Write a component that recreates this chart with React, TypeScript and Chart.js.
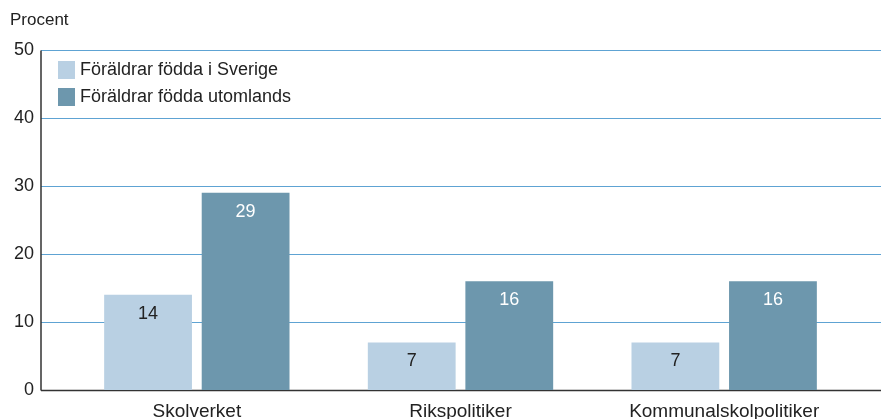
import React, { useEffect, useRef } from "react";
import { Chart, registerables } from "chart.js";

Chart.register(...registerables);

const categories = ["Skolverket", "Rikspolitiker", "Kommunalskolpolitiker"];
const seriesNames = ["Föräldrar födda i Sverige", "Föräldrar födda utomlands"];
const bornSweden = [14, 7, 7];
const bornAbroad = [29, 16, 16];
const yTicks = [0, 10, 20, 30, 40, 50];
const yTitle = "Procent";

const LIGHT = "#b9d0e3";
const DARK = "#6d97ad";
const GRID = "#5ea3d3";
const TEXT = "#222222";
const FONT = "'Liberation Sans', Arial, sans-serif";

export default function App() {
  const ref = useRef<HTMLCanvasElement | null>(null);

  useEffect(() => {
    document.body.style.margin = "0";
    const canvas = ref.current;
    if (!canvas) return;

    const decor = {
      id: "decor",
      beforeDatasetsDraw(chart: any) {
        const ctx = chart.ctx;
        const y = chart.scales.y;
        const axisX = 41;
        const right = chart.width;
        ctx.save();
        ctx.lineWidth = 1;
        ctx.strokeStyle = GRID;
        yTicks.forEach((t) => {
          if (t === 0) return;
          const py = Math.round(y.getPixelForValue(t)) + 0.5;
          ctx.beginPath();
          ctx.moveTo(axisX, py);
          ctx.lineTo(right, py);
          ctx.stroke();
        });
        ctx.strokeStyle = "#333333";
        ctx.lineWidth = 1.5;
        const y0 = Math.round(y.getPixelForValue(0)) + 0.5;
        const yTop = Math.round(y.getPixelForValue(50)) + 0.5;
        ctx.beginPath();
        ctx.moveTo(axisX, y0);
        ctx.lineTo(right, y0);
        ctx.moveTo(axisX, yTop);
        ctx.lineTo(axisX, y0);
        ctx.stroke();
        ctx.restore();
      },
      afterDatasetsDraw(chart: any) {
        const ctx = chart.ctx;
        ctx.save();
        ctx.font = `18px ${FONT}`;
        ctx.textAlign = "center";
        ctx.textBaseline = "middle";
        chart.data.datasets.forEach((ds: any, di: number) => {
          const meta = chart.getDatasetMeta(di);
          meta.data.forEach((bar: any, i: number) => {
            ctx.fillStyle = di === 0 ? TEXT : "#ffffff";
            ctx.fillText(String(ds.data[i]), bar.x, bar.y + 19);
          });
        });
        // title
        ctx.textAlign = "left";
        ctx.fillStyle = TEXT;
        ctx.font = `17px ${FONT}`;
        ctx.fillText(yTitle, 10, 20);
        // legend
        const colors = [LIGHT, DARK];
        ctx.font = `18px ${FONT}`;
        seriesNames.forEach((name, i) => {
          const top = 61 + i * 27;
          ctx.fillStyle = colors[i];
          ctx.fillRect(58, top, 17, 18);
          ctx.fillStyle = TEXT;
          ctx.fillText(name, 80, top + 9);
        });
        ctx.restore();
      },
    };

    const chart = new Chart(canvas, {
      type: "bar",
      data: {
        labels: categories,
        datasets: [
          { label: seriesNames[0], data: bornSweden, backgroundColor: LIGHT },
          { label: seriesNames[1], data: bornAbroad, backgroundColor: DARK },
        ],
      },
      options: {
        responsive: false,
        animation: false,
        layout: { padding: { top: 50, right: 25, left: 0, bottom: 0 } },
        datasets: {
          bar: { categoryPercentage: 0.74, barPercentage: 0.9 },
        },
        plugins: {
          legend: { display: false },
          tooltip: { enabled: false },
        },
        scales: {
          x: {
            grid: { display: false, drawTicks: false },
            border: { display: false },
            afterFit(scale: any) {
              scale.height = 29;
            },
            ticks: {
              color: TEXT,
              font: { family: FONT, size: 19 },
              padding: 10,
              maxRotation: 0,
            },
          },
          y: {
            min: 0,
            max: 50,
            grid: { display: false, drawTicks: false },
            border: { display: false },
            afterFit(scale: any) {
              scale.width = 65;
              scale.paddingTop = 0;
              scale.paddingBottom = 0;
            },
            ticks: {
              stepSize: 10,
              color: TEXT,
              font: { family: FONT, size: 18 },
              padding: 31,
            },
          },
        },
      },
      plugins: [decor],
    });
    return () => chart.destroy();
  }, []);

  return (
    <div style={{ width: 881, height: 419 }}>
      <canvas ref={ref} width={881} height={419} style={{ display: "block" }} />
    </div>
  );
}
